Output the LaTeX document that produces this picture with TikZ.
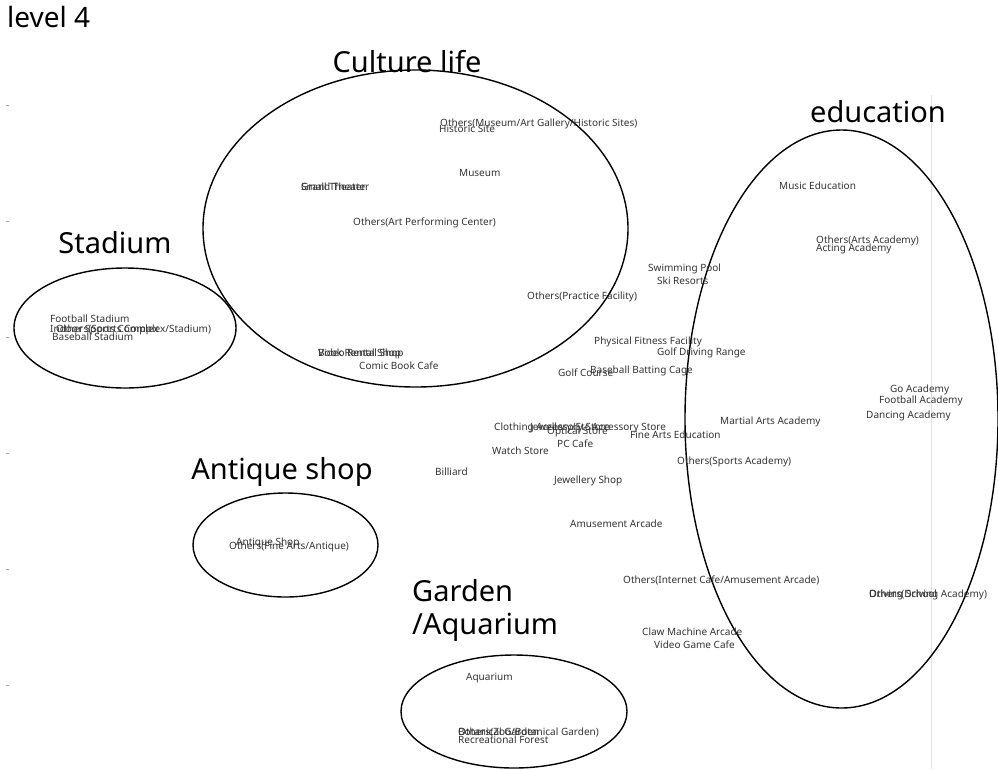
\documentclass[tikz,border=0pt]{standalone}
\usepackage{fontspec}
\setmainfont{Noto Sans}
\usetikzlibrary{shapes.geometric}
\tikzset{
  item/.style={anchor=west, inner sep=0pt, font=\fontsize{10}{11}\selectfont, text=black!80},
  grp/.style={anchor=center, inner sep=0pt, font=\fontsize{29}{33}\selectfont, text=black},
  blob/.style={draw=black, line width=1.4pt, ellipse, inner sep=0pt},
  axisline/.style={draw=black!12, line width=0.8pt},
}
\begin{document}
\begin{tikzpicture}[x=1pt,y=-1pt]
\useasboundingbox (0,0) rectangle (998,769);
% faint axis remnants
\coordinate (vt) at (931,95);
\coordinate (vb) at (931,769);
\draw[axisline] (vt) -- (vb);
\foreach \yy in {105,221,337,453,569,685}{
  \draw[draw=black!35, line width=0.5pt] (6,\yy) -- (9,\yy);
}
% title
\node[anchor=west, inner sep=0pt, font=\fontsize{28}{32}\selectfont] (title) at (7,17) {level 4};
% ellipses
\node[blob, minimum width=425pt, minimum height=317pt] (culture) at (415.5,228.5) {};
\node[blob, minimum width=222pt, minimum height=120pt] (stadium) at (125,328) {};
\node[blob, minimum width=185pt, minimum height=104pt] (antique) at (285.5,545) {};
\node[blob, minimum width=226pt, minimum height=113pt] (garden) at (514,711.5) {};
\node[blob, minimum width=313pt, minimum height=578pt] (edu) at (841.5,419) {};
% group labels
\node[grp] (lculture) at (407,62) {Culture life};
\node[grp] (lstadium) at (115,243) {Stadium};
\node[grp] (lantique) at (282,472) {Antique shop};
\node[grp, anchor=west] (lgarden1) at (412,591) {Garden};
\node[grp, anchor=west] (lgarden2) at (412,627) {/Aquarium};
\node[grp] (ledu) at (878,112) {education};
% culture life items
\node[item] (c1) at (440,124) {Others(Museum/Art Gallery/Historic Sites)};
\node[item] (c2) at (439,129) {Historic Site};
\node[item] (c3) at (459,173) {Museum};
\node[item] (c4) at (301,187) {Grand Theater};
\node[item] (c5) at (301,187) {Small Theater};
\node[item] (c6) at (353,223) {Others(Art Performing Center)};
\node[item] (c7) at (527,297) {Others(Practice Facility)};
\node[item] (c8) at (318,354) {Book Rental Shop};
\node[item] (c9) at (318,354) {Video Rental Shop};
\node[item] (c10) at (359,366) {Comic Book Cafe};
% stadium items
\node[item] (s1) at (50,319) {Football Stadium};
\node[item] (s2) at (50,330) {Indoor Sports Complex};
\node[item] (s3) at (56,330) {Others(Sports Complex/Stadium)};
\node[item] (s4) at (52,337) {Baseball Stadium};
% middle items
\node[item] (m1) at (648,269) {Swimming Pool};
\node[item] (m2) at (657,281) {Ski Resorts};
\node[item] (m3) at (594,342) {Physical Fitness Facility};
\node[item] (m4) at (657,353) {Golf Driving Range};
\node[item] (m5) at (558,373) {Golf Course};
\node[item] (m6) at (590,371) {Baseball Batting Cage};
\node[item] (m7) at (494,428) {Clothing Accessory Store};
\node[item] (m8) at (530,428) {Jewellery/Etc Accessory Store};
\node[item] (m9) at (547,432) {Optical Store};
\node[item] (m10) at (630,435) {Fine Arts Education};
\node[item] (m11) at (557,444) {PC Cafe};
\node[item] (m12) at (492,451) {Watch Store};
\node[item] (m13) at (435,472) {Billiard};
\node[item] (m14) at (554,481) {Jewellery Shop};
\node[item] (m15) at (570,524) {Amusement Arcade};
\node[item] (m16) at (623,580) {Others(Internet Cafe/Amusement Arcade)};
\node[item] (m17) at (642,632) {Claw Machine Arcade};
\node[item] (m18) at (654,645) {Video Game Cafe};
\node[item] (m19) at (720,422) {Martial Arts Academy};
\node[item] (m20) at (677,462) {Others(Sports Academy)};
% education items
\node[item] (e1) at (779,186) {Music Education};
\node[item] (e2) at (816,241) {Others(Arts Academy)};
\node[item] (e3) at (816,249) {Acting Academy};
\node[item] (e4) at (890,390) {Go Academy};
\node[item] (e5) at (879,401) {Football Academy};
\node[item] (e6) at (866,416) {Dancing Academy};
\node[item] (e7) at (869,595) {Driving School};
\node[item] (e8) at (869,595) {Others(Driving Academy)};
% antique items
\node[item] (a1) at (236,543) {Antique Shop};
\node[item] (a2) at (229,547) {Others(Fine Arts/Antique)};
% garden items
\node[item] (g1) at (466,678) {Aquarium};
\node[item] (g2) at (458,732) {Botanical Garden};
\node[item] (g3) at (458,732) {Others(Zoo/Botanical Garden)};
\node[item] (g4) at (458,740) {Recreational Forest};
\end{tikzpicture}
\end{document}
